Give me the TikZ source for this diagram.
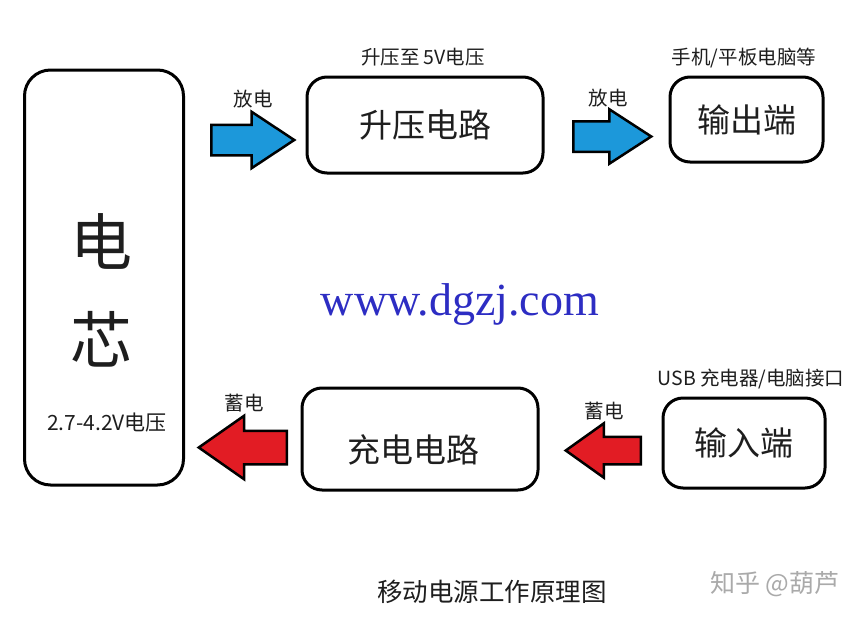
\documentclass[tikz,border=0pt]{standalone}
\usepackage{fontspec}
\setmainfont{Noto Sans CJK SC}
\newfontfamily\urlfont{Liberation Serif}
\usetikzlibrary{shapes.arrows}
\definecolor{bluefill}{RGB}{28,152,218}
\definecolor{redfill}{RGB}{226,28,36}
\definecolor{ink}{RGB}{30,30,30}
\definecolor{urlblue}{RGB}{45,45,195}
\definecolor{wm}{RGB}{170,170,170}
\begin{document}
\begin{tikzpicture}[x=1pt,y=-1pt,
  box/.style={draw=black, line width=3pt, rounded corners=20pt, text=ink, font=\fontsize{33}{35}\selectfont, inner sep=0pt},
  boxtext/.style={text=ink, font=\fontsize{33}{35}\selectfont, inner sep=0pt},
  lbl/.style={text=ink, font=\fontsize{19.5}{21}\selectfont, inner sep=0pt},
  blk/.style={single arrow, draw=black, line width=2.5pt, line join=miter, inner sep=0pt},
]
\useasboundingbox (0,0) rectangle (864,618);
\fill[white] (0,0) rectangle (864,618);

% boxes
\node[box, rounded corners=26pt, minimum width=159, minimum height=415] (cell) at (104,277.5) {};
\node[box, minimum width=236, minimum height=96] (boost) at (425,125) {升压电路};
\node[box, minimum width=153, minimum height=85] (out) at (746.5,119.5) {输出端};
\node[box, minimum width=236, minimum height=102] (charge) at (420,439) {};
\node[boxtext] (chargetext) at (413,450) {充电电路};
\node[box, minimum width=162, minimum height=90] (in) at (744,443) {输入端};

% text in the cell box
\node[text=ink, font=\fontsize{62}{64}\selectfont, inner sep=0pt] (c1) at (101,241) {电};
\node[text=ink, font=\fontsize{62}{64}\selectfont, inner sep=0pt] (c2) at (101,339) {芯};
\node[text=ink, font=\fontsize{21}{23}\selectfont, inner sep=0pt] (cv) at (107,423) {2.7-4.2V电压};

% labels
\node[lbl] (lboost) at (423,57) {升压至 5V电压};
\node[lbl] (lout) at (744,58) {手机/平板电脑等};
\node[lbl] (lin) at (751,379) {USB 充电器/电脑接口};
\node[lbl] (d1) at (253,99) {放电};
\node[lbl] (d2) at (608,98) {放电};
\node[lbl] (s1) at (244,403) {蓄电};
\node[lbl] (s2) at (604,411) {蓄电};

% block arrows
\node[blk, fill=bluefill, anchor=tail, minimum height=83, minimum width=54, inner ysep=14pt, single arrow head extend=13pt, single arrow tip angle=67] (a1) at (210,140) {};
\node[blk, fill=bluefill, anchor=tail, minimum height=78, minimum width=52, inner ysep=14pt, single arrow head extend=12pt, single arrow tip angle=66] (a2) at (572,136.5) {};
\node[blk, fill=redfill, anchor=tail, shape border rotate=180, minimum height=88, minimum width=61, inner ysep=15.5pt, single arrow head extend=15pt, single arrow tip angle=70] (a3) at (288,447.5) {};
\node[blk, fill=redfill, anchor=tail, shape border rotate=180, minimum height=75, minimum width=52, inner ysep=12.5pt, single arrow head extend=13.5pt, single arrow tip angle=71] (a4) at (642,450.5) {};

% url
\node[text=urlblue, font=\urlfont\fontsize{46}{48}\selectfont, inner sep=0pt, anchor=base] (url) at (460,315) {www.dgzj.com};

% caption and watermark
\node[text=ink, font=\fontsize{25.5}{27}\selectfont, inner sep=0pt] (title) at (492,592) {移动电源工作原理图};
\node[text=wm, font=\fontsize{25}{27}\selectfont, inner sep=0pt] (wmk) at (775,584) {知乎 @葫芦};
\end{tikzpicture}
\end{document}
